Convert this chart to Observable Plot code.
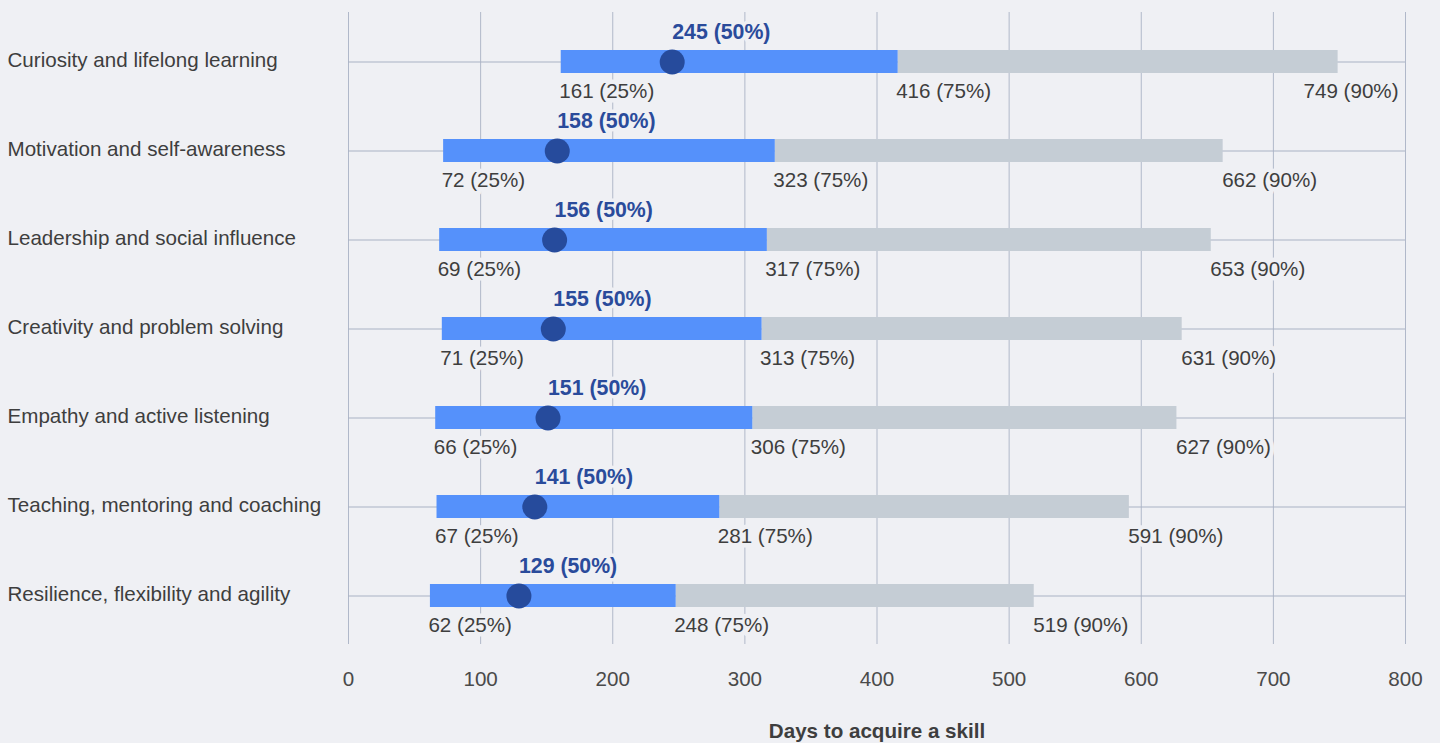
<!DOCTYPE html>
<html>
<head>
<meta charset="utf-8">
<script src="https://cdn.jsdelivr.net/npm/d3@7"></script>
<script src="https://cdn.jsdelivr.net/npm/@observablehq/plot@0.6"></script>
<style>
  html, body { margin: 0; padding: 0; background: #eff0f4; }
  #chart { width: 1440px; height: 743px; }
</style>
</head>
<body>
<div id="chart"></div>
<script>
const skills = [
  "Curiosity and lifelong learning",
  "Motivation and self-awareness",
  "Leadership and social influence",
  "Creativity and problem solving",
  "Empathy and active listening",
  "Teaching, mentoring and coaching",
  "Resilience, flexibility and agility"
];
const p25 = [161, 72, 69, 71, 66, 67, 62];
const p50 = [245, 158, 156, 155, 151, 141, 129];
const p75 = [416, 323, 317, 313, 306, 281, 248];
const p90 = [749, 662, 653, 631, 627, 591, 519];
const xTicks = [0, 100, 200, 300, 400, 500, 600, 700, 800];
const axisTitle = "Days to acquire a skill";

const data = skills.map((s, i) => ({skill: s, p25: p25[i], p50: p50[i], p75: p75[i], p90: p90[i]}));
const xMax = xTicks[xTicks.length - 1];

const BG = "#eff0f4";
const TXT = "#3e3e3e";
const FONT = "'Liberation Sans', Arial, Helvetica, sans-serif";
const FS = 20.6;
const fits = d => d.p90 <= 700;

const chart = Plot.plot({
  width: 1440,
  height: 743,
  marginLeft: 348,
  marginRight: 35,
  marginTop: 16,
  marginBottom: 102,
  style: {background: BG, fontFamily: FONT, fontSize: "20px", color: TXT},
  x: {domain: [0, xMax], ticks: xTicks},
  y: {type: "band", domain: skills, padding: 0},
  marks: [
    Plot.ruleX(xTicks, {stroke: "#b0b8c9", strokeWidth: 1, insetTop: -4, insetBottom: -3}),
    Plot.ruleY(data, {y: "skill", stroke: "#a9b2c4", strokeWidth: 1.2}),
    Plot.barX(data, {x1: "p75", x2: "p90", y: "skill", fill: "#c5cdd5", insetTop: 33, insetBottom: 33}),
    Plot.barX(data, {x1: "p25", x2: "p75", y: "skill", fill: "#5591fb", insetTop: 33, insetBottom: 33}),
    Plot.text(data, {x: "p25", y: "skill", text: d => `${d.p25} (25%)`, textAnchor: "start", dx: -2, dy: 29,
      fontSize: FS, fill: TXT, stroke: BG, strokeWidth: 9}),
    Plot.text(data, {x: "p75", y: "skill", text: d => `${d.p75} (75%)`, textAnchor: "start", dx: -2, dy: 29,
      fontSize: FS, fill: TXT, stroke: BG, strokeWidth: 9}),
    Plot.text(data.filter(fits), {x: "p90", y: "skill", text: d => `${d.p90} (90%)`, textAnchor: "start", dx: -1, dy: 29,
      fontSize: FS, fill: TXT, stroke: BG, strokeWidth: 9}),
    Plot.text(data.filter(d => !fits(d)), {x: () => xMax, y: "skill", text: d => `${d.p90} (90%)`, textAnchor: "end", dx: -7, dy: 29,
      fontSize: FS, fill: TXT, stroke: BG, strokeWidth: 9}),
    Plot.text(data, {x: "p50", y: "skill", text: d => `${d.p50} (50%)`, textAnchor: "start", dx: 0, dy: -30,
      fontSize: 21.3, fontWeight: "bold", fill: "#2a4b9b", stroke: BG, strokeWidth: 7}),
    Plot.ruleX(data, {x: "p50", y: "skill", stroke: "#5a5a5a", strokeWidth: 1.2, insetTop: 23.6, insetBottom: 55.6}),
    Plot.dot(data, {x: "p50", y: "skill", r: 12.5, fill: "#264b9c", stroke: "none"}),
    Plot.text(data, {y: "skill", text: "skill", frameAnchor: "left", textAnchor: "start", dx: -341, dy: -2,
      fontSize: FS, fill: TXT}),
    Plot.axisX({ticks: xTicks, tickSize: 0, tickPadding: 30, fontSize: FS, color: "#4a4a4a", label: null}),
    Plot.axisY({ticks: [], label: null, tickSize: 0}),
    Plot.text([axisTitle], {frameAnchor: "bottom", text: d => d, dy: 96, fontSize: 20.6, fontWeight: "bold", fill: TXT})
  ]
});
document.getElementById("chart").appendChild(chart);
</script>
</body>
</html>
